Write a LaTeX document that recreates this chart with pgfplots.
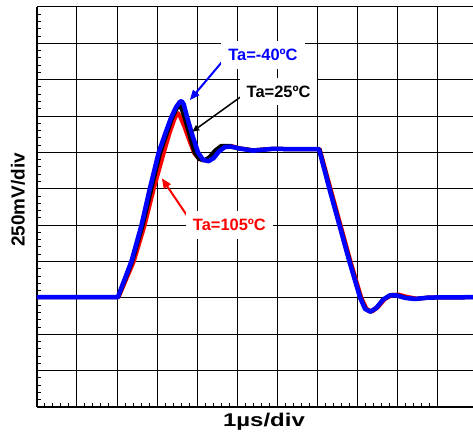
\documentclass[border=0pt]{standalone}
\usepackage{fontspec}
\setmainfont{Liberation Sans}
\usepackage{pgfplots}
\pgfplotsset{compat=1.18}
\usepackage{pgfplotstable}
\usetikzlibrary{arrows.meta}

% Step response traces, x in time divisions, y in voltage divisions
\pgfplotstableread{
x y
0     3.02
2.04  3.02
2.42  4.00
2.69  4.99
2.92  6.00
3.17  6.99
3.32  7.55
3.44  7.92
3.50  8.05
3.53  8.08
3.58  7.98
3.68  7.72
3.80  7.35
3.93  6.98
4.05  6.82
4.20  6.78
4.35  6.88
4.50  7.05
4.65  7.16
4.85  7.18
5.05  7.12
5.40  7.06
5.90  7.10
6.40  7.09
7.07  7.09
7.34  6.00
7.59  5.00
7.84  4.00
8.11  3.00
8.24  2.70
8.37  2.62
8.52  2.74
8.70  2.97
8.88  3.08
9.05  3.09
9.25  3.03
9.50  2.98
9.80  3.01
10.9  3.02
}\redtbl

\pgfplotstableread{
x y
0     3.02
2.03  3.02
2.38  4.00
2.64  4.99
2.86  6.00
3.08  6.99
3.24  7.50
3.38  7.95
3.50  8.22
3.57  8.29
3.62  8.18
3.69  7.95
3.82  7.45
3.94  6.99
4.05  6.82
4.17  6.78
4.30  6.86
4.45  7.05
4.60  7.18
4.80  7.18
5.00  7.12
5.40  7.06
5.90  7.10
6.40  7.09
7.06  7.09
7.32  6.00
7.57  5.00
7.82  4.00
8.09  3.00
8.21  2.70
8.34  2.62
8.49  2.73
8.66  2.96
8.84  3.08
9.00  3.08
9.20  3.01
9.45  2.97
9.80  3.01
10.9  3.02
}\blacktbl

\pgfplotstableread{
x y
0     3.02
2.02  3.02
2.36  4.00
2.61  4.99
2.82  6.00
3.04  6.99
3.20  7.50
3.36  7.98
3.48  8.25
3.57  8.39
3.62  8.41
3.67  8.32
3.75  7.98
3.89  7.45
4.03  6.99
4.15  6.80
4.29  6.76
4.42  6.85
4.55  7.03
4.70  7.15
4.85  7.16
5.05  7.11
5.40  7.05
5.90  7.10
6.40  7.09
7.05  7.09
7.31  6.00
7.56  5.00
7.81  4.00
8.08  3.00
8.20  2.70
8.33  2.62
8.48  2.72
8.65  2.95
8.82  3.07
8.98  3.07
9.20  3.00
9.45  2.97
9.80  3.01
10.9  3.02
}\bluetbl

\begin{document}
\begin{tikzpicture}
\begin{axis}[
  name=ax,
  scale only axis,
  width=436bp, height=400bp,
  xmin=0, xmax=10.9, ymin=0, ymax=11,
  xtick={0,...,10}, ytick={0,...,11},
  minor tick num=4,
  xticklabels={}, yticklabels={},
  axis x line*=bottom, axis y line*=left,
  axis line style={line width=2bp, -},
  tick align=inside,
  major tick length=0pt, minor tick length=4.5bp,
  every minor tick/.style={line width=1bp, black},
  grid=major,
  major grid style={line width=1bp, black},
  xlabel={\scalebox{1.3}[1]{\fontsize{18.5}{20}\selectfont\bfseries 1µs/div}},
  xlabel style={at={(axis description cs:0.5206,-0.0375)}, anchor=center},
  ylabel={\fontsize{19}{21}\selectfont\bfseries 250mV/div},
  ylabel style={at={(axis description cs:-0.0436,0.5175)}, anchor=center, rotate=0},
]
\coordinate (sw) at (rel axis cs:0,0);
\coordinate (ne) at (rel axis cs:1,1);

\addplot[red, line width=4bp, line join=round] table[x=x,y=y] {\redtbl};
\addplot[black, line width=4bp, line join=round] table[x=x,y=y] {\blacktbl};
\addplot[blue, line width=4.5bp, line join=round] table[x=x,y=y] {\bluetbl};

% annotations
\draw[blue, line width=2bp, -{Triangle[length=10bp,width=8bp]}]
  (axis cs:4.74,9.64) -- (axis cs:3.82,8.44);
\draw[black, line width=1.5bp, -{Triangle[length=7bp,width=6bp]}]
  (axis cs:5.22,8.63) -- (axis cs:3.88,7.57);
\draw[red, line width=2bp, -{Triangle[length=10bp,width=8bp]}]
  (axis cs:3.87,5.07) -- (axis cs:3.12,6.29);

\node[fill=white, inner xsep=7bp, inner ysep=8bp, text=blue,
  font=\fontsize{16.5}{18}\selectfont\bfseries] at (axis cs:5.65,9.68) {Ta=-40ºC};
\node[fill=white, inner xsep=7bp, inner ysep=8bp, text=black,
  font=\fontsize{16.5}{18}\selectfont\bfseries] at (axis cs:6.04,8.68) {Ta=25ºC};
\node[fill=white, inner xsep=7bp, inner ysep=8bp, text=red,
  font=\fontsize{16.5}{18}\selectfont\bfseries] at (axis cs:4.81,5.0) {Ta=105ºC};
\end{axis}
\pgfresetboundingbox
\path (sw) ++(-37bp,-30bp) coordinate (bl);
\path (ne) ++(0bp,7bp) coordinate (tr);
\path[use as bounding box] (bl) rectangle (tr);
\end{tikzpicture}
\end{document}
